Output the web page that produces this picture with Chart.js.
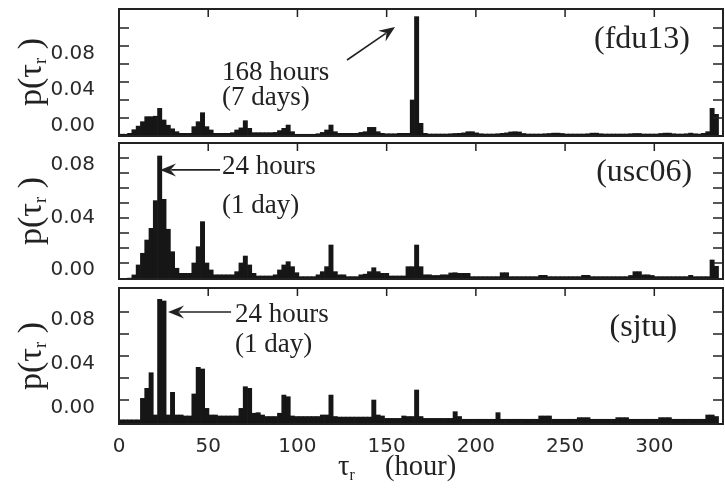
<!DOCTYPE html>
<html>
<head>
<meta charset="utf-8">
<script src="https://cdn.jsdelivr.net/npm/chart.js@4.4.1/dist/chart.umd.min.js"></script>
<style>
  html, body { margin: 0; padding: 0; background: #fff; }
  #wrap { position: relative; width: 725px; height: 493px; overflow: hidden; }
  #wrap canvas { position: absolute; left: 0; }
  .ytitle { position: absolute; left: 31px; transform: translate(-50%, -50%) rotate(-90deg);
            font: 34px "Liberation Serif", serif; color: #222; white-space: pre; }
  .ytitle sub, .xtitle sub { font-size: 55%; vertical-align: -0.3em; }
  .xtitle { position: absolute; left: 338px; top: 450px;
            font: 28.5px "Liberation Serif", serif; color: #222; white-space: pre; }
  .xtitle .unit { position: absolute; left: 47px; top: 0; }
</style>
</head>
<body>
<div id="wrap">
  <canvas id="c1" width="725" height="140" style="top:0px;width:725px;height:140px"></canvas>
  <canvas id="c2" width="725" height="142" style="top:140px;width:725px;height:142px"></canvas>
  <canvas id="c3" width="725" height="211" style="top:282px;width:725px;height:211px"></canvas>
  <div class="ytitle" style="top:72px">p(τ<sub>r</sub> )</div>
  <div class="ytitle" style="top:211px">p(τ<sub>r</sub> )</div>
  <div class="ytitle" style="top:356px">p(τ<sub>r</sub> )</div>
  <div class="xtitle">τ<sub>r</sub><span class="unit">(hour)</span></div>
</div>
<script>
// bin centres, 0.1 day (2.4 h) bins
const binHours = [
  1.2, 3.6, 6, 8.4, 10.8, 13.2, 15.6, 18, 20.4, 22.8,
  25.2, 27.6, 30, 32.4, 34.8, 37.2, 39.6, 42, 44.4, 46.8,
  49.2, 51.6, 54, 56.4, 58.8, 61.2, 63.6, 66, 68.4, 70.8,
  73.2, 75.6, 78, 80.4, 82.8, 85.2, 87.6, 90, 92.4, 94.8,
  97.2, 99.6, 102, 104.4, 106.8, 109.2, 111.6, 114, 116.4, 118.8,
  121.2, 123.6, 126, 128.4, 130.8, 133.2, 135.6, 138, 140.4, 142.8,
  145.2, 147.6, 150, 152.4, 154.8, 157.2, 159.6, 162, 164.4, 166.8,
  169.2, 171.6, 174, 176.4, 178.8, 181.2, 183.6, 186, 188.4, 190.8,
  193.2, 195.6, 198, 200.4, 202.8, 205.2, 207.6, 210, 212.4, 214.8,
  217.2, 219.6, 222, 224.4, 226.8, 229.2, 231.6, 234, 236.4, 238.8,
  241.2, 243.6, 246, 248.4, 250.8, 253.2, 255.6, 258, 260.4, 262.8,
  265.2, 267.6, 270, 272.4, 274.8, 277.2, 279.6, 282, 284.4, 286.8,
  289.2, 291.6, 294, 296.4, 298.8, 301.2, 303.6, 306, 308.4, 310.8,
  313.2, 315.6, 318, 320.4, 322.8, 325.2, 327.6, 330, 332.4, 334.8
];

const fdu13 = [
  -0.018, -0.018, -0.017, -0.013, -0.009, -0.0041, 0.0015, 0.0015, 0.002, 0.0107,
  -0.0022, -0.008, -0.012, -0.0152, -0.017, -0.017, -0.017, -0.0096, -0.0041, 0.0059,
  -0.0096, -0.0133, -0.017, -0.017, -0.017, -0.017, -0.0163, -0.0133, -0.011, -0.003,
  -0.0115, -0.0163, -0.0163, -0.0163, -0.0163, -0.0163, -0.016, -0.014, -0.0115, -0.0078,
  -0.0152, -0.0181, -0.0181, -0.0181, -0.0181, -0.0181, -0.0175, -0.016, -0.0133, -0.0078,
  -0.0152, -0.017, -0.017, -0.017, -0.017, -0.017, -0.016, -0.0152, -0.0104, -0.0104,
  -0.0152, -0.017, -0.0175, -0.0175, -0.0175, -0.017, -0.017, -0.017, 0.020, 0.1126,
  -0.0059, -0.017, -0.0178, -0.0178, -0.0178, -0.0178, -0.0178, -0.0175, -0.0172, -0.017,
  -0.0165, -0.0152, -0.0152, -0.0165, -0.0175, -0.0178, -0.0178, -0.0178, -0.0175, -0.017,
  -0.0165, -0.0155, -0.0152, -0.0155, -0.0172, -0.0178, -0.0178, -0.0178, -0.0178, -0.0175,
  -0.0172, -0.0168, -0.0168, -0.0172, -0.0178, -0.0178, -0.0178, -0.0178, -0.0178, -0.0175,
  -0.0168, -0.0168, -0.0175, -0.0178, -0.0178, -0.0178, -0.0178, -0.0178, -0.0178, -0.0175,
  -0.0172, -0.0172, -0.0178, -0.0178, -0.0178, -0.0178, -0.0172, -0.0168, -0.0168, -0.0175,
  -0.0178, -0.0178, -0.0175, -0.0168, -0.0175, -0.0178, -0.017, -0.0152, 0.0107, 0.0041
];

const usc06 = [
  -0.0121, -0.0121, -0.0115, -0.0091, -0.0015, 0.0074, 0.0175, 0.0264, 0.0475, 0.0815,
  0.0485, 0.0257, 0.0086, -0.004, -0.0079, -0.0079, -0.0079, 0.0, 0.0124, 0.0315,
  0.0, -0.0053, -0.009, -0.009, -0.009, -0.009, -0.009, -0.0066, 0.0, 0.0053,
  -0.0015, -0.0079, -0.0099, -0.0099, -0.0099, -0.0099, -0.009, -0.0053, -0.0015, 0.001,
  -0.0028, -0.0074, -0.0104, -0.0104, -0.0104, -0.0104, -0.009, -0.0066, -0.0028, 0.0137,
  -0.0066, -0.009, -0.009, -0.0104, -0.0104, -0.0104, -0.009, -0.0085, -0.0066, -0.0036,
  -0.0066, -0.0079, -0.0079, -0.0099, -0.0099, -0.0099, -0.0099, -0.0028, -0.0028, 0.0137,
  -0.0028, -0.009, -0.009, -0.0095, -0.0095, -0.009, -0.009, -0.0076, -0.0074, -0.0079,
  -0.0079, -0.0079, -0.0104, -0.0104, -0.0104, -0.0104, -0.0104, -0.0104, -0.0104, -0.0074,
  -0.0074, -0.0104, -0.0104, -0.0104, -0.0104, -0.0104, -0.0104, -0.0104, -0.0094, -0.0094,
  -0.0104, -0.0104, -0.0104, -0.0104, -0.0104, -0.0104, -0.0104, -0.0104, -0.0094, -0.0094,
  -0.0104, -0.0104, -0.0104, -0.0104, -0.0104, -0.0104, -0.0104, -0.0104, -0.0104, -0.0095,
  -0.0066, -0.0066, -0.009, -0.009, -0.0095, -0.0104, -0.0104, -0.0104, -0.0104, -0.0104,
  -0.0104, -0.0104, -0.0104, -0.0094, -0.0104, -0.0104, -0.0104, -0.0104, 0.0023, -0.0025
];

const sjtu = [
  -0.018, -0.018, -0.018, -0.018, -0.018, 0.0015, 0.0106, 0.0248, -0.0136, 0.0915,
  0.090, -0.0136, 0.007, -0.0136, -0.0136, -0.0145, -0.0145, 0.0055, 0.0297, 0.0282,
  -0.0076, -0.0136, -0.0136, -0.0145, -0.0145, -0.0145, -0.0145, -0.0145, -0.0076, 0.0121,
  0.0106, -0.012, -0.0115, -0.0136, -0.015, -0.015, -0.015, -0.012, 0.0045, 0.003,
  -0.0145, -0.015, -0.015, -0.015, -0.015, -0.015, -0.015, -0.0136, -0.0136, 0.0045,
  -0.015, -0.0155, -0.0155, -0.0155, -0.0155, -0.0155, -0.0155, -0.0155, -0.0155, 0.0,
  -0.0136, -0.0145, -0.0167, -0.0167, -0.0167, -0.0167, -0.0145, -0.015, -0.015, 0.0091,
  -0.015, -0.0167, -0.0167, -0.0167, -0.0167, -0.0167, -0.0167, -0.0167, -0.0106, -0.015,
  -0.0175, -0.0175, -0.0175, -0.0175, -0.0175, -0.0175, -0.0175, -0.0175, -0.0115, -0.0175,
  -0.0175, -0.0175, -0.0175, -0.0175, -0.0175, -0.0175, -0.0175, -0.0175, -0.0145, -0.0145,
  -0.0145, -0.0175, -0.0175, -0.0175, -0.0175, -0.0175, -0.0175, -0.016, -0.016, -0.016,
  -0.0175, -0.0175, -0.0175, -0.0175, -0.0175, -0.0175, -0.016, -0.016, -0.016, -0.0175,
  -0.0175, -0.0175, -0.0175, -0.0175, -0.0175, -0.0175, -0.016, -0.016, -0.016, -0.0175,
  -0.0175, -0.0175, -0.0175, -0.0175, -0.0175, -0.0175, -0.0175, -0.0136, -0.0136, -0.015
];

const xLabelHours = [0, 50, 100, 150, 200, 250, 300];
const xTickHours = [50, 100, 150, 200, 250, 300];
const yLabelValues = [0, 0.04, 0.08];
const fduTicks = [0, 0.02, 0.04, 0.06, 0.08, 0.10];
const uscTicks = [0, 0.0114, 0.0229, 0.0343, 0.0457, 0.0571, 0.0686, 0.08];
const sjtuTicks = [0, 0.02, 0.04, 0.06, 0.08];

const INK = '#161616';
const tickFont = { family: 'DejaVu Sans', size: 20 };

// frame, inward tick marks, annotations
const panelDecor = {
  id: 'panelDecor',
  afterDraw(chart, args, opts) {
    const { ctx, chartArea: a, scales: { x, y } } = chart;
    ctx.save();
    ctx.strokeStyle = '#222';
    ctx.lineWidth = 2;
    ctx.strokeRect(a.left, a.top, a.right - a.left, a.bottom - a.top);

    ctx.lineWidth = 1.5;
    ctx.beginPath();
    opts.yTicks.forEach(v => {
      const py = y.getPixelForValue(v);
      if (py <= a.top + 2 || py >= a.bottom - 2) return;
      ctx.moveTo(a.left, py); ctx.lineTo(a.left + 10, py);
      ctx.moveTo(a.right, py); ctx.lineTo(a.right - 10, py);
    });
    xTickHours.forEach(v => {
      const px = x.getPixelForValue(v);
      ctx.moveTo(px, a.top); ctx.lineTo(px, a.top + 8);
    });
    ctx.stroke();

    ctx.fillStyle = '#222';
    ctx.textBaseline = 'alphabetic';
    ctx.font = '27px "Liberation Serif", serif';
    ctx.textAlign = 'left';
    opts.notes.forEach(n => {
      ctx.fillText(n.text, x.getPixelForValue(n.x), y.getPixelForValue(n.y));
    });
    ctx.font = '32px "Liberation Serif", serif';
    ctx.textAlign = 'right';
    ctx.fillText(opts.tag.text, x.getPixelForValue(opts.tag.x), y.getPixelForValue(opts.tag.y));

    // arrow
    const fx = x.getPixelForValue(opts.arrow.from[0]), fy = y.getPixelForValue(opts.arrow.from[1]);
    const tx = x.getPixelForValue(opts.arrow.to[0]), ty = y.getPixelForValue(opts.arrow.to[1]);
    const ang = Math.atan2(ty - fy, tx - fx);
    const c = Math.cos(ang), s = Math.sin(ang);
    const L = 16, W = 6.5;
    ctx.strokeStyle = '#222';
    ctx.lineWidth = 1.6;
    ctx.beginPath();
    ctx.moveTo(fx, fy);
    ctx.lineTo(tx - c * L * 0.7, ty - s * L * 0.7);
    ctx.stroke();
    ctx.beginPath();
    ctx.moveTo(tx, ty);
    ctx.lineTo(tx - c * L - s * W, ty - s * L + c * W);
    ctx.lineTo(tx - c * L * 0.65, ty - s * L * 0.65);
    ctx.lineTo(tx - c * L + s * W, ty - s * L - c * W);
    ctx.closePath();
    ctx.fill();
    ctx.restore();
  }
};

function makePanel(id, values, yMin, yMax, pad, showX, labelShift, decor) {
  return new Chart(document.getElementById(id), {
    type: 'bar',
    data: {
      datasets: [{
        data: binHours.map((h, i) => ({ x: h, y: values[i] })),
        backgroundColor: INK,
        borderWidth: 0,
        barPercentage: 1,
        categoryPercentage: 1,
        base: yMin
      }]
    },
    options: {
      responsive: false,
      animation: false,
      events: [],
      layout: { autoPadding: false, padding: { top: pad[0], bottom: pad[1], left: 0, right: 2 } },
      plugins: {
        legend: { display: false },
        tooltip: { enabled: false },
        panelDecor: decor
      },
      scales: {
        x: {
          type: 'linear', min: 0, max: 338.5, offset: false,
          grid: { display: false }, border: { display: false },
          ticks: { display: showX, font: tickFont, color: '#2a2a2a', padding: 3, maxRotation: 0, autoSkip: false },
          afterBuildTicks: s => { s.ticks = xLabelHours.map(v => ({ value: v })); },
          afterFit: s => {
            s.height = showX ? 69 : 0;
            s.paddingLeft = 0; s.paddingRight = 0; s.paddingTop = 0; s.paddingBottom = 0;
          }
        },
        y: {
          min: yMin, max: yMax,
          grid: { display: false }, border: { display: false },
          ticks: { font: tickFont, color: '#2a2a2a', padding: 16, labelOffset: labelShift, callback: v => v.toFixed(2) },
          afterBuildTicks: s => { s.ticks = yLabelValues.map(v => ({ value: v })); },
          afterFit: s => {
            s.width = 119;
            s.paddingLeft = 0; s.paddingRight = 0; s.paddingTop = 0; s.paddingBottom = 0;
          }
        }
      }
    },
    plugins: [panelDecor]
  });
}

makePanel('c1', fdu13, -0.02, 0.1211, [9, 4], false, 8, {
  yTicks: fduTicks,
  notes: [{ text: '168 hours', x: 57.7, y: 0.0422 }, { text: '(7 days)', x: 57.7, y: 0.0144 }],
  tag: { text: '(fdu13)', x: 320, y: 0.0778 },
  arrow: { from: [127.8, 0.0644], to: [154.7, 0.101] }
});

makePanel('c2', usc06, -0.0122, 0.0914, [3, 3], false, 7, {
  yTicks: uscTicks,
  notes: [{ text: '24 hours', x: 57.7, y: 0.0678 }, { text: '(1 day)', x: 57.7, y: 0.0381 }],
  tag: { text: '(usc06)', x: 321.2, y: 0.0625 },
  arrow: { from: [56.6, 0.0709], to: [23, 0.0709] }
});

makePanel('c3', sjtu, -0.0218, 0.1018, [6, 0], true, 8, {
  yTicks: sjtuTicks,
  notes: [{ text: '24 hours', x: 65, y: 0.0709 }, { text: '(1 day)', x: 65, y: 0.0436 }],
  tag: { text: '(sjtu)', x: 312.8, y: 0.0582 },
  arrow: { from: [62.8, 0.08], to: [27.5, 0.08] }
});
</script>
</body>
</html>
